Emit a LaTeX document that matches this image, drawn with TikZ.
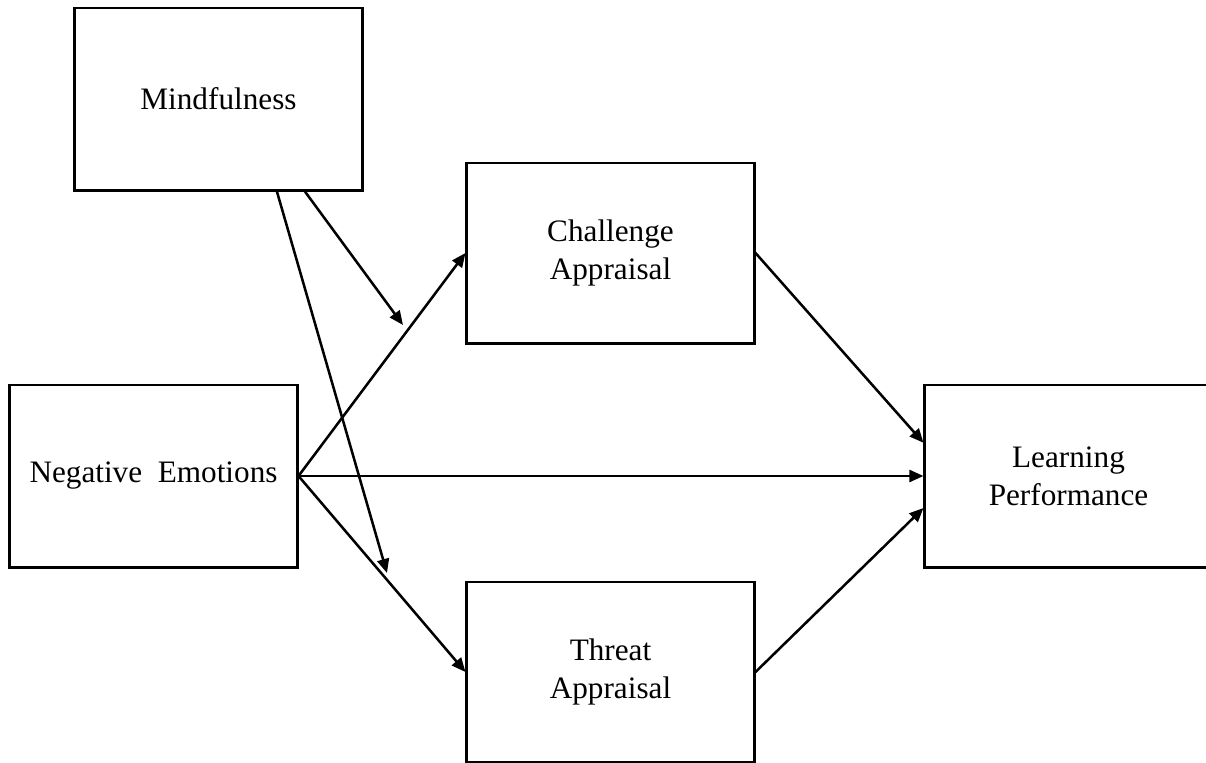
\documentclass[tikz,border=0pt]{standalone}
\usepackage{fontspec}
\setmainfont{Liberation Serif}
\usetikzlibrary{arrows.meta,positioning}

\begin{document}
\begin{tikzpicture}[x=0.025cm,y=-0.025cm,
  var/.style={draw=black,line width=2.1pt,fill=white,minimum width=7.175cm,
    align=center,inner sep=0pt,font=\fontsize{22.2}{27}\selectfont},
  link/.style={line width=1.8pt,-{Triangle[length=10pt,width=8.5pt]}}]
  \clip (0,0) rectangle (1206,763);
  % variables
  \node[var,minimum height=4.55cm] (mind) at (218.5,99) {Mindfulness};
  \node[var,minimum height=4.55cm] (neg) at (153.5,476) {Negative~~Emotions};
  \node[var,minimum height=4.5cm] (chal) at (610.5,253) {Challenge\\Appraisal};
  \node[var,minimum height=4.5cm] (threat) at (610.5,672) {Threat\\Appraisal};
  \node[var,minimum height=4.55cm] (learn) at (1068.5,476) {Learning\\Performance};
  % moderation targets
  \coordinate (modC) at (403,325);
  \coordinate (modT) at (387,573);
  % paths
  \draw[link] (neg.east) -- (chal.west);
  \draw[link] (neg.east) -- (learn.west);
  \draw[link] (neg.east) -- (threat.west);
  \draw[link] (chal.east) -- ([yshift=0.83cm]learn.west);
  \draw[link] (threat.east) -- ([yshift=-0.8cm]learn.west);
  \draw[link] ([xshift=2.16cm]mind.south) -- (modC);
  \draw[link] ([xshift=1.46cm]mind.south) -- (modT);
\end{tikzpicture}
\end{document}
